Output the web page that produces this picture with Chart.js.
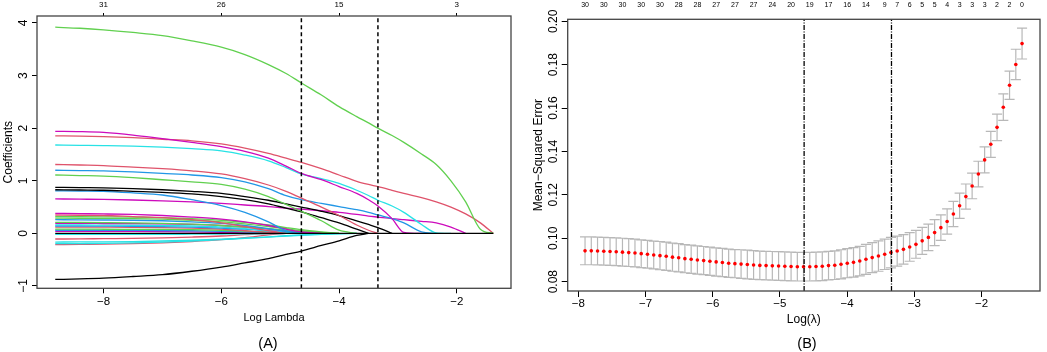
<!DOCTYPE html>
<html><head><meta charset="utf-8">
<script src="https://cdn.jsdelivr.net/npm/chart.js@4.4.1/dist/chart.umd.min.js"></script>
<style>
html,body{margin:0;padding:0;background:#fff;}
#wrap{position:relative;width:1047px;height:352px;overflow:hidden;font-family:'Liberation Sans',Arial,Helvetica,sans-serif;}
canvas{position:absolute;top:0;}
#cA{left:0;} #cB{left:520px;}
.lab{position:absolute;top:333px;font-size:14.5px;line-height:20px;width:60px;text-align:center;color:#000;}
</style></head><body>
<div id="wrap">
<canvas id="cA" width="520" height="352"></canvas>
<canvas id="cB" width="527" height="352"></canvas>
<div class="lab" style="left:238px">(A)</div>
<div class="lab" style="left:777px">(B)</div>
</div>
<script>
// ---------------- DATA: panel A (coefficient paths) ----------------
const coefLogLambda = [-8.82,-8.4,-8.0,-7.5,-7.0,-6.5,-6.0,-5.6,-5.2,-4.9,-4.64,-4.3,-4.0,-3.7,-3.5,-3.34,-3.1,-2.9,-2.6,-2.35,-2.1,-1.85,-1.6,-1.38];
const pGreen1 = [3.92,3.90,3.87,3.82,3.76,3.66,3.54,3.40,3.21,3.04,2.86,2.63,2.41,2.22,2.10,2.00,1.86,1.73,1.51,1.31,1.00,0.60,0.08,0];
const pMag1   = [1.94,1.935,1.92,1.87,1.80,1.73,1.65,1.56,1.43,1.28,1.14,1.02,0.89,0.76,0.64,0.52,0.28,0.02,0];
const pRed1   = [1.855,1.85,1.84,1.82,1.79,1.76,1.70,1.62,1.52,1.43,1.35,1.23,1.11,0.99,0.93,0.89,0.82,0.76,0.68,0.60,0.50,0.37,0.20,0];
const pCyan1  = [1.68,1.675,1.67,1.66,1.64,1.61,1.57,1.49,1.38,1.25,1.13,1.04,0.95,0.82,0.72,0.63,0.52,0.40,0.17,0.01,0];
const pRed2   = [1.31,1.30,1.29,1.26,1.23,1.19,1.13,1.04,0.92,0.80,0.67,0.50,0.34,0.16,0.06,0];
const pBlue1  = [1.20,1.195,1.19,1.17,1.14,1.11,1.06,0.98,0.85,0.72,0.64,0.57,0.51,0.45,0.40,0.35,0.28,0.20,0.03,0];
const pGreen2 = [1.11,1.10,1.09,1.06,1.02,0.98,0.93,0.84,0.70,0.55,0.42,0.24,0.06,0];
const pBlack1 = [0.876,0.87,0.865,0.85,0.83,0.80,0.76,0.70,0.63,0.56,0.50,0.42,0.34,0.24,0.17,0.11,0];
const pBlack2 = [0.83,0.825,0.82,0.80,0.78,0.75,0.70,0.64,0.56,0.48,0.41,0.30,0.20,0.08,0];
const pBlue2  = [0.81,0.805,0.80,0.77,0.73,0.64,0.53,0.40,0.22,0.05,0];
const pMag2   = [0.655,0.65,0.645,0.635,0.62,0.60,0.57,0.54,0.51,0.48,0.46,0.43,0.40,0.36,0.33,0.31,0.28,0.26,0.23,0.20,0.12,0];
const pMag3   = [0.38,0.375,0.37,0.36,0.34,0.31,0.27,0.22,0.15,0.08,0.03,0];
const pRed3   = [0.35,0.345,0.34,0.32,0.30,0.26,0.20,0.13,0.05,0];
const pGreen3 = [0.32,0.318,0.315,0.31,0.30,0.28,0.25,0.21,0.16,0.11,0.07,0.03,0];
const pGreen4 = [0.29,0.288,0.285,0.28,0.27,0.25,0.22,0.18,0.13,0.09,0.05,0.02,0];
const pBlue3  = [0.26,0.258,0.255,0.25,0.24,0.22,0.19,0.15,0.09,0.04,0];
const pGreen5 = [0.21,0.208,0.205,0.20,0.19,0.175,0.15,0.12,0.09,0.06,0.04,0.01,0];
const pMag4   = [0.19,0.19,0.188,0.185,0.18,0.17,0.15,0.12,0.08,0.05,0.02,0];
const pCyan2  = [0.16,0.16,0.158,0.155,0.15,0.14,0.12,0.09,0.05,0.02,0];
const pBlue4  = [0.14,0.14,0.138,0.135,0.13,0.12,0.10,0.08,0.05,0.03,0.01,0];
const pRed4   = [0.12,0.12,0.118,0.115,0.11,0.10,0.08,0.05,0.02,0];
const pGreen6 = [0.08,0.08,0.079,0.077,0.075,0.07,0.06,0.045,0.03,0.02,0.01,0];
const pBlue5  = [0.06,0.06,0.059,0.057,0.055,0.05,0.04,0.03,0.02,0.01,0];
const pMag5   = [0.04,0.04,0.04,0.038,0.035,0.03,0.02,0.01,0];
const pBlack3 = [0,0,0,0,0,0,0,0,0,0,0,0,0,0,0,0,0,0,0,0,0,0,0,0];
const pCyan3  = [-0.02,-0.02,-0.02,-0.019,-0.018,-0.015,-0.012,-0.008,-0.005,0];
const pRed5   = [-0.107,-0.105,-0.10,-0.095,-0.085,-0.07,-0.05,-0.025,-0.005,0];
const pCyan4  = [-0.165,-0.162,-0.16,-0.155,-0.145,-0.13,-0.11,-0.09,-0.065,-0.045,-0.03,-0.015,-0.005,0];
const pCyan5  = [-0.195,-0.193,-0.19,-0.18,-0.165,-0.145,-0.12,-0.095,-0.07,-0.05,-0.035,-0.02,-0.008,0];
const pRed6   = [-0.215,-0.21,-0.205,-0.195,-0.18,-0.155,-0.12,-0.08,-0.03,0];
const pBlack4 = [-0.876,-0.865,-0.85,-0.82,-0.785,-0.72,-0.64,-0.56,-0.48,-0.40,-0.335,-0.23,-0.14,-0.04,0];

const aXTicks = [-8,-6,-4,-2];
const aYTicks = [-1,0,1,2,3,4];
const aTopAt  = [-8,-6,-4,-2];
const aTopNz  = [31,26,15,3];

// ---------------- DATA: panel B (cross-validation) ----------------
const cvLogLambda = [-7.900,-7.807,-7.714,-7.621,-7.528,-7.436,-7.343,-7.250,-7.157,-7.064,
 -6.971,-6.878,-6.785,-6.692,-6.599,-6.507,-6.414,-6.321,-6.228,-6.135,
 -6.042,-5.949,-5.856,-5.763,-5.670,-5.578,-5.485,-5.392,-5.299,-5.206,
 -5.113,-5.020,-4.927,-4.834,-4.741,-4.649,-4.556,-4.463,-4.370,-4.277,
 -4.184,-4.091,-3.998,-3.905,-3.812,-3.720,-3.627,-3.534,-3.441,-3.348,
 -3.255,-3.162,-3.069,-2.976,-2.883,-2.791,-2.698,-2.605,-2.512,-2.419,
 -2.326,-2.233,-2.140,-2.047,-1.954,-1.862,-1.769,-1.676,-1.583,-1.490,
 -1.397];
const cvMse = [0.0942,0.0942,0.0941,0.0940,0.0939,0.0938,0.0936,0.0934,0.0932,0.0929,
 0.0926,0.0923,0.0920,0.0917,0.0913,0.0910,0.0906,0.0903,0.0900,0.0897,
 0.0894,0.0891,0.0888,0.0885,0.0883,0.0881,0.0879,0.0877,0.0875,0.0874,
 0.0873,0.0872,0.0871,0.0870,0.0869,0.0869,0.0869,0.0870,0.0871,0.0874,
 0.0876,0.0880,0.0885,0.0889,0.0895,0.0903,0.0911,0.0918,0.0926,0.0934,
 0.0941,0.0949,0.0960,0.0972,0.0988,0.1004,0.1026,0.1049,0.1077,0.1112,
 0.1150,0.1192,0.1241,0.1296,0.1361,0.1433,0.1511,0.1604,0.1705,0.1801,
 0.1897];
const cvSe = [0.0064,0.0064,0.0064,0.0064,0.0064,0.0064,0.0064,0.0064,0.0064,0.0064,
 0.0064,0.0064,0.0065,0.0065,0.0065,0.0065,0.0065,0.0065,0.0065,0.0065,
 0.0065,0.0065,0.0065,0.0065,0.0065,0.0066,0.0066,0.0066,0.0066,0.0066,
 0.0066,0.0066,0.0066,0.0066,0.0066,0.0066,0.0066,0.0066,0.0066,0.0066,
 0.0066,0.0067,0.0067,0.0068,0.0068,0.0069,0.0069,0.0070,0.0070,0.0070,
 0.0069,0.0068,0.0066,0.0064,0.0062,0.0061,0.0060,0.0059,0.0058,0.0058,
 0.0058,0.0058,0.0059,0.0059,0.0060,0.0060,0.0061,0.0061,0.0065,0.0070,
 0.0071];
const cvTopIdx = [0,3,6,9,12,15,18,21,24,27,30,33,36,39,42,45,48,50,52,54,56,58,60,62,64,66,68,70];
const cvTopNz  = [30,30,30,30,30,28,28,27,27,27,24,20,19,17,16,14,9,7,6,5,5,4,3,3,3,2,2,0];
const bXTicks = [-8,-7,-6,-5,-4,-3,-2];
const bYTicks = [0.08,0.10,0.12,0.14,0.16,0.18,0.20];

const logLambdaMin = -4.64;
const logLambda1se = -3.34;

// ---------------- styles ----------------
const BLACK='#000000', RED='#DF536B', GREEN='#61D04F', BLUE='#2297E6', CYAN='#28E2E5', MAGENTA='#CD0BBC';
const coefPaths  = [pBlack3,pGreen1,pMag1,pRed1,pCyan1,pRed2,pBlue1,pGreen2,pBlack1,pBlack2,pBlue2,pMag2,pMag3,pRed3,pGreen3,pGreen4,pBlue3,pGreen5,pMag4,pCyan2,pBlue4,pRed4,pGreen6,pBlue5,pMag5,pCyan3,pRed5,pCyan4,pCyan5,pRed6,pBlack4];
const coefColors = [BLACK,GREEN,MAGENTA,RED,CYAN,RED,BLUE,GREEN,BLACK,BLACK,BLUE,MAGENTA,MAGENTA,RED,GREEN,GREEN,BLUE,GREEN,MAGENTA,CYAN,BLUE,RED,GREEN,BLUE,MAGENTA,CYAN,RED,CYAN,CYAN,RED,BLACK];

Chart.defaults.font.family = "'Liberation Sans', Arial, Helvetica, sans-serif";
Chart.defaults.color = '#000';

const fmtNum = v => String(v).replace('-', '\u2212');
const boxPlugin = { id:'box', afterDatasetsDraw(chart){ const {ctx, chartArea:a} = chart; ctx.save(); ctx.strokeStyle='#444'; ctx.lineWidth=1.3; ctx.strokeRect(a.left, a.top, a.right-a.left, a.bottom-a.top); ctx.restore(); } };

// ---------------- Panel A ----------------
const A_YMIN = -1.044, A_YMAX = 4.133;
const aDatasets = [];
[logLambdaMin, logLambda1se].forEach(v => aDatasets.push({
  data:[{x:v,y:A_YMIN},{x:v,y:A_YMAX}], showLine:true, borderColor:'#000', borderWidth:1.5,
  borderDash:[4,3], pointRadius:0, xAxisID:'x', yAxisID:'y'
}));
coefPaths.forEach((p,k) => aDatasets.push({
  data: p.map((y,i) => ({x: coefLogLambda[i], y})), showLine:true, borderColor:coefColors[k],
  borderWidth:1.3, pointRadius:0, cubicInterpolationMode:'monotone', xAxisID:'x', yAxisID:'y'
}));

new Chart(document.getElementById('cA'), {
  type:'scatter',
  data:{datasets:aDatasets},
  options:{
    responsive:false, animation:false, events:[],
    layout:{padding:{left:0,right:9,top:0,bottom:0}},
    plugins:{legend:{display:false}, tooltip:{enabled:false}},
    scales:{
      x:{type:'linear', axis:'x', position:'bottom', min:-9.13, max:-1.08,
        afterBuildTicks:s=>{ s.ticks = aXTicks.map(v=>({value:v})); },
        afterFit:s=>{ s.height = 63.7; },
        border:{display:false},
        grid:{drawOnChartArea:false, drawTicks:true, tickLength:5, color:'#000'},
        ticks:{autoSkip:false, maxRotation:0, padding:1.5, font:{size:11.5}, color:'#000', callback:v=>fmtNum(v)},
        title:{display:true, text:'Log Lambda', font:{size:11}, color:'#000', padding:{top:0,bottom:27}}
      },
      xTop:{type:'linear', axis:'x', position:'top', min:-9.13, max:-1.08,
        afterBuildTicks:s=>{ s.ticks = aTopAt.map(v=>({value:v})); },
        afterFit:s=>{ s.height = 16; },
        border:{display:false},
        grid:{drawOnChartArea:false, drawTicks:true, tickLength:3, color:'#000'},
        ticks:{autoSkip:false, maxRotation:0, padding:3.5, font:{size:8}, color:'#000', callback:(v,i)=>String(aTopNz[i])}
      },
      y:{type:'linear', axis:'y', position:'left', min:A_YMIN, max:A_YMAX,
        afterBuildTicks:s=>{ s.ticks = aYTicks.map(v=>({value:v})); },
        afterFit:s=>{ s.width = 37; },
        border:{display:false},
        grid:{drawOnChartArea:false, drawTicks:true, tickLength:5, color:'#000'},
        ticks:{autoSkip:false, minRotation:90, maxRotation:90, crossAlign:'center', padding:1.9, font:{size:12}, color:'#000', callback:v=>fmtNum(v)},
        title:{display:true, text:'Coefficients', font:{size:12}, color:'#000', padding:{top:1.1,bottom:0}}
      }
    }
  },
  plugins:[boxPlugin]
});

// ---------------- Panel B ----------------
const B_YMIN = 0.0757, B_YMAX = 0.2009, CAP = 0.075;
const errData = [];
cvLogLambda.forEach((x,i) => {
  const hi = cvMse[i] + cvSe[i], lo = cvMse[i] - cvSe[i];
  errData.push({x, y:lo},{x, y:hi},{x, y:null},
               {x:x-CAP, y:hi},{x:x+CAP, y:hi},{x, y:null},
               {x:x-CAP, y:lo},{x:x+CAP, y:lo},{x, y:null});
});
const bDatasets = [];
[logLambdaMin, logLambda1se].forEach(v => bDatasets.push({
  data:[{x:v,y:B_YMIN},{x:v,y:B_YMAX}], showLine:true, borderColor:'#000', borderWidth:1.3,
  borderDash:[5,1.5,1,1.5], pointRadius:0, xAxisID:'x', yAxisID:'y'
}));
bDatasets.push({
  data: cvLogLambda.map((x,i)=>({x, y:cvMse[i]})), showLine:false, pointRadius:1.8,
  pointBackgroundColor:'#ff0000', pointBorderWidth:0, xAxisID:'x', yAxisID:'y'
});
bDatasets.push({
  data: errData, showLine:true, spanGaps:false, borderColor:'#b8b8b8', borderWidth:1.2,
  pointRadius:0, xAxisID:'x', yAxisID:'y'
});

new Chart(document.getElementById('cB'), {
  type:'scatter',
  data:{datasets:bDatasets},
  options:{
    responsive:false, animation:false, events:[],
    layout:{padding:{left:0,right:7,top:0,bottom:0}},
    plugins:{legend:{display:false}, tooltip:{enabled:false}},
    scales:{
      x:{type:'linear', axis:'x', position:'bottom', min:-8.158, max:-1.13,
        afterBuildTicks:s=>{ s.ticks = bXTicks.map(v=>({value:v})); },
        afterFit:s=>{ s.height = 61; },
        border:{display:false},
        grid:{drawOnChartArea:false, drawTicks:true, tickLength:6, color:'#000'},
        ticks:{autoSkip:false, maxRotation:0, padding:0, font:{size:11.5}, color:'#000', callback:v=>fmtNum(v)},
        title:{display:true, text:'Log(\u03BB)', font:{size:12}, color:'#000', padding:{top:0,bottom:25.5}}
      },
      xTop:{type:'linear', axis:'x', position:'top', min:-8.158, max:-1.13,
        afterBuildTicks:s=>{ s.ticks = cvTopIdx.map(i=>({value:cvLogLambda[i]})); },
        afterFit:s=>{ s.height = 19.3; },
        border:{display:false},
        grid:{drawOnChartArea:false, drawTicks:false},
        ticks:{autoSkip:false, maxRotation:0, padding:10, font:{size:7}, color:'#000', callback:(v,i)=>String(cvTopNz[i])}
      },
      y:{type:'linear', axis:'y', position:'left', min:B_YMIN, max:B_YMAX,
        afterBuildTicks:s=>{ s.ticks = bYTicks.map(v=>({value:v})); },
        afterFit:s=>{ s.width = 47.7; },
        border:{display:false},
        grid:{drawOnChartArea:false, drawTicks:true, tickLength:6, color:'#000'},
        ticks:{autoSkip:false, minRotation:90, maxRotation:90, crossAlign:'center', padding:-3.3, font:{size:12}, color:'#000', callback:v=>v.toFixed(2)},
        title:{display:true, text:'Mean\u2212Squared Error', font:{size:12}, color:'#000', padding:{top:11,bottom:0}}
      }
    }
  },
  plugins:[boxPlugin]
});
</script>
</body></html>
